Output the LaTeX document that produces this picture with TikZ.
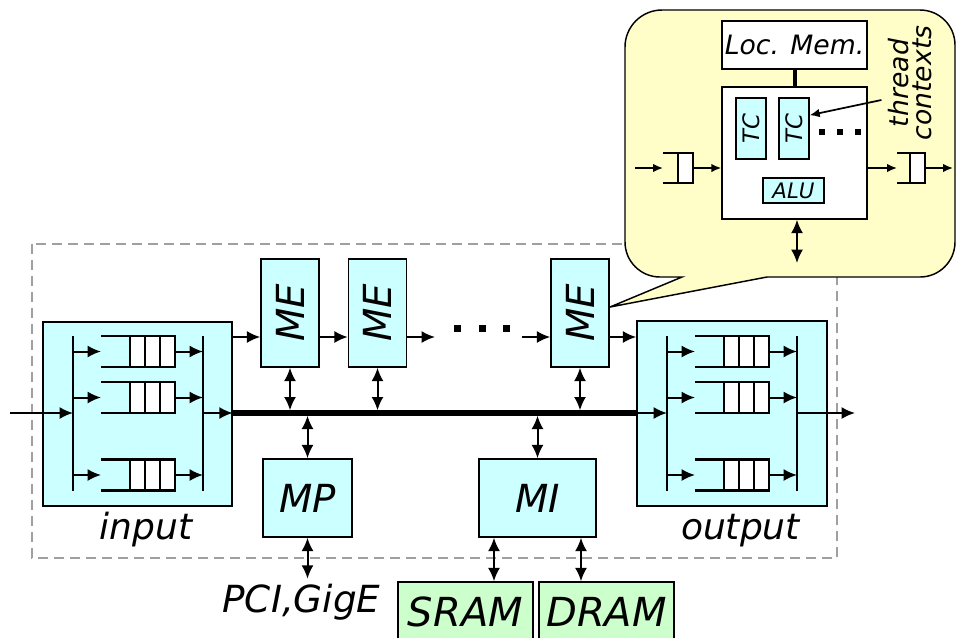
\documentclass[tikz,border=0pt]{standalone}
\usepackage{fontspec}
\setmainfont{DejaVu Sans}
\usepackage{graphicx}
\usetikzlibrary{arrows.meta}
\definecolor{celeste}{HTML}{CCFFFF}
\definecolor{verdoso}{HTML}{CCFFCC}
\definecolor{amarillo}{HTML}{FFFDC8}
\definecolor{grisraya}{HTML}{A0A0A0}
\begin{document}
\begin{tikzpicture}[x=0.75pt, y=-0.75pt,
        bloque/.style={draw, line width=1.1pt, fill=celeste, inner sep=0pt,
        font=\itshape\fontsize{29}{31}\selectfont},
        memoria/.style={bloque, fill=verdoso, font=\itshape\fontsize{30}{32}\selectfont},
        blanco/.style={bloque, fill=white},
        chico/.style={bloque, line width=1pt, font=\itshape\fontsize{16}{18}\selectfont},
        cola/.style={draw, line width=2pt, fill=white, inner sep=0pt, outer sep=0pt},
        barra/.style={line width=2pt},
        flecha/.style={line width=1.5pt, -{Latex[length=10pt, width=9pt]}},
        dflecha/.style={line width=1.5pt, {Latex[length=10pt, width=9pt]}-{Latex[length=10pt, width=9pt]}},
        pflecha/.style={line width=1.3pt, -{Latex[length=7.5pt, width=6.5pt]}},
        etiqueta/.style={anchor=base, inner sep=0pt, font=\itshape\fontsize{27}{29}\selectfont},
        marco/.style={draw=grisraya, line width=1.5pt, dash pattern=on 7.5pt off 4.5pt},
        globo/.style={draw, line width=1.1pt, fill=amarillo}
    ]
        \useasboundingbox (0,0) rectangle (956,637);
        \clip (0,0) rectangle (956,637);
        \draw[marco] (32,244) rectangle (837,558);

        % globo con el detalle del ME
        \filldraw[globo] (767,277) -- (920,277) arc[start angle=90, end angle=0, radius=35]
            -- (955,45) arc[start angle=0, end angle=-90, radius=35]
            -- (662,10) arc[start angle=-90, end angle=-180, radius=37]
            -- (625,242) arc[start angle=180, end angle=90, radius=35]
            -- (682,277) -- (610,307) -- cycle;
        \node[blanco, minimum width=108.75pt, minimum height=36pt,
            font=\itshape\fontsize{20}{22}\selectfont] (locmem) at (794.5,45) {Loc. Mem.};
        \node[blanco, minimum width=108.75pt, minimum height=99pt] (mebig) at (794.5,153) {};
        \draw[line width=3pt] (locmem.south) -- (mebig.north);
        \node[chico, minimum width=22.5pt, minimum height=45.75pt,
            font=\itshape\fontsize{17}{19}\selectfont] (tc1) at (751,128.5) {\rotatebox{90}{TC}};
        \node[chico, minimum width=22.5pt, minimum height=45.75pt,
            font=\itshape\fontsize{17}{19}\selectfont] (tc2) at (794,128.5) {\rotatebox{90}{TC}};
        \node[chico, minimum width=45.75pt, minimum height=18.75pt] (alu) at (793.5,190.5) {ALU};
        \foreach \x in {822,840,858}
            \fill (\x-3,128.5) rectangle (\x+3,134.5);
        \node[rotate=90, align=center, inner sep=2pt,
            font=\itshape\fontsize{20}{17}\selectfont] (hilos) at (910,83) {thread\\contexts};
        \draw[pflecha] ([xshift=-3pt, yshift=-12.75pt]hilos.north) -- ([yshift=10pt]tc2.east);
        \node[cola, minimum width=11.25pt, minimum height=22.5pt, line width=1.5pt] (cq1) at (685.5,168) {};
        \node[cola, minimum width=11.25pt, minimum height=22.5pt, line width=1.5pt] (cq2) at (917.5,168) {};
        \draw[line width=1.5pt] (663,153) -- (cq1.north west);
        \draw[line width=1.5pt] (663,183) -- (cq1.south west);
        \draw[line width=1.5pt] (897,153) -- (cq2.north west);
        \draw[line width=1.5pt] (897,183) -- (cq2.south west);
        \coordinate (gin) at (635,168);
        \coordinate (gab1) at (663,168);
        \coordinate (gab2) at (897,168);
        \coordinate (gout) at (953,168);
        \coordinate (gbaja) at (797,263);
        \draw[pflecha] (gin) -- (gab1);
        \draw[pflecha] (cq1.east) -- (mebig.west |- cq1);
        \draw[pflecha] (mebig.east |- cq2) -- (gab2);
        \draw[pflecha] (cq2.east) -- (gout);
        \draw[dflecha] (mebig.south -| gbaja) -- (gbaja);

        % bloques del procesador
        \node[bloque, minimum width=141.75pt, minimum height=138pt] (entrada) at (137.5,414) {};
        \node[bloque, minimum width=142.5pt, minimum height=138.75pt] (salida) at (732,413.5) {};
        \node[bloque, minimum width=43.5pt, minimum height=81pt] (me1) at (290,313) {\rotatebox{90}{ME}};
        \node[bloque, minimum width=43.5pt, minimum height=81pt] (me2) at (377.5,313) {\rotatebox{90}{ME}};
        \node[bloque, minimum width=43.5pt, minimum height=81pt] (me3) at (580,313) {\rotatebox{90}{ME}};
        \node[bloque, minimum width=66.75pt, minimum height=58.5pt] (mp) at (307.5,498) {MP};
        \node[bloque, minimum width=87.75pt, minimum height=58.5pt] (mi) at (537.5,498) {MI};
        \node[memoria, minimum width=101.25pt, minimum height=44.25pt] (sram) at (465.5,611.5) {SRAM};
        \node[memoria, minimum width=101.25pt, minimum height=44.25pt] (dram) at (606.5,611.5) {DRAM};
        \node[etiqueta] (lin) at (146,539) {input};
        \node[etiqueta] (lout) at (740.5,539) {output};
        \node[etiqueta, font=\itshape\fontsize{28}{30}\selectfont] (pci) at (301.5,612) {PCI,GigE};

        % colas de entrada y salida
        \foreach \dx/\n in {0pt/e, 445.5pt/s} {
            \begin{scope}[xshift=\dx]
                \coordinate (izq\n) at (73,413);
                \coordinate (der\n) at (203,413);
                \draw[line width=1.5pt] (73,336) -- (73,491);
                \draw[line width=1.5pt] (203,336) -- (203,491);
                \foreach \y [count=\i] in {351.5,397.5,475} {
                    \node[cola, minimum width=33.75pt, minimum height=23.25pt] (q\n\i) at (152.5,\y) {};
                    \coordinate (ab\n\i) at (101,\y);
                    \draw[barra] (101,\y-15.5) -- (q\n\i.north west);
                    \draw[barra] (101,\y+15.5) -- (q\n\i.south west);
                    \draw[line width=1.5pt] (145,\y-15.5) -- (145,\y+15.5);
                    \draw[line width=1.5pt] (160,\y-15.5) -- (160,\y+15.5);
                    \draw[flecha] (izq\n |- ab\n\i) -- (ab\n\i);
                    \draw[flecha] (q\n\i.east) -- (der\n |- ab\n\i);
                }
            \end{scope}
        }

        % bus y conexiones
        \coordinate (ent) at (10,413);
        \coordinate (sal) at (855,413);
        \coordinate (fila) at (0,337);
        \coordinate (p1) at (435,337);
        \coordinate (p2) at (522,337);
        \coordinate (xs) at (494,0);
        \coordinate (xd) at (581,0);
        \draw[line width=4pt] (entrada.east |- ent) -- (salida.west |- ent);
        \draw[flecha] (ent) -- (izqe);
        \draw[flecha] (dere) -- (entrada.east |- dere);
        \draw[flecha] (salida.west |- izqs) -- (izqs);
        \draw[flecha] (ders) -- (sal);
        \draw[flecha] (entrada.east |- fila) -- (me1.west |- fila);
        \draw[flecha] (me1.east |- fila) -- (me2.west |- fila);
        \draw[flecha] (me2.east |- fila) -- (p1);
        \draw[flecha] (p2) -- (me3.west |- fila);
        \draw[flecha] (me3.east |- fila) -- (salida.west |- fila);
        \foreach \x in {457,482,506}
            \fill (\x-3.5,324.5) rectangle (\x+3.5,331.5);
        \draw[dflecha, shorten >=2pt] (me1.south) -- (me1.south |- ent);
        \draw[dflecha, shorten >=2pt] (me2.south) -- (me2.south |- ent);
        \draw[dflecha, shorten >=2pt] (me3.south) -- (me3.south |- ent);
        \draw[dflecha, shorten <=2pt] (mp.north |- ent) -- (mp.north);
        \draw[dflecha, shorten <=2pt] (mi.north |- ent) -- (mi.north);
        \draw[dflecha, shorten >=3.5pt] (mp.south) -- (mp.south |- pci.north);
        \draw[dflecha] (mi.south -| xs) -- (sram.north -| xs);
        \draw[dflecha] (mi.south -| xd) -- (dram.north -| xd);
    \end{tikzpicture}
\end{document}
